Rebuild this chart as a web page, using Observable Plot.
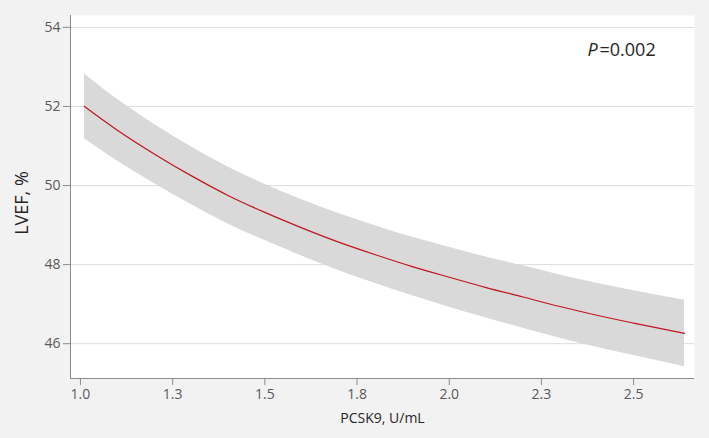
<!DOCTYPE html>
<html>
<head>
<meta charset="utf-8">
<script src="https://cdn.jsdelivr.net/npm/d3@7"></script>
<script src="https://cdn.jsdelivr.net/npm/@observablehq/plot@0.6"></script>
<style>
  html, body { margin: 0; padding: 0; background: #f2f2f2; }
  #chart { width: 709px; height: 438px; }
</style>
</head>
<body>
<div id="chart"></div>
<script>
// PCSK9 (U/mL) grid, fitted LVEF (%) and 95% confidence band
const pcsk9 = [1.011, 1.1, 1.2, 1.3, 1.4, 1.5, 1.6, 1.7, 1.8, 1.9, 2.0, 2.1, 2.2, 2.3, 2.4, 2.5, 2.638];
const lvefFit = [52.0, 51.4, 50.8, 50.25, 49.75, 49.32, 48.93, 48.57, 48.25, 47.95, 47.68, 47.42, 47.18, 46.94, 46.72, 46.52, 46.26];
const lvefHi = [52.82, 52.18, 51.55, 50.98, 50.47, 50.03, 49.64, 49.29, 48.98, 48.69, 48.44, 48.19, 47.97, 47.74, 47.53, 47.34, 47.10];
const lvefLo = [51.18, 50.62, 50.05, 49.52, 49.03, 48.61, 48.22, 47.85, 47.52, 47.21, 46.92, 46.65, 46.39, 46.14, 45.91, 45.70, 45.42];

const xTicks = [1.0, 1.25, 1.5, 1.75, 2.0, 2.25, 2.5];
const xTickLabels = ["1.0", "1.3", "1.5", "1.8", "2.0", "2.3", "2.5"];
const yTicks = [46, 48, 50, 52, 54];
const xDomain = [0.973, 2.665];
const yDomain = [45.12, 54.30];

const xTitle = "PCSK9, U/mL";
const yTitle = "LVEF, %";
const pItalic = "P";
const pValue = "=0.002";

const rows = pcsk9.map((x, i) => ({x, fit: lvefFit[i], lo: lvefLo[i], hi: lvefHi[i]}));

const axisGray = "#8c8c8c";
const textGray = "#595959";

const chart = Plot.plot({
  width: 709,
  height: 438,
  marginLeft: 70,
  marginRight: 15,
  marginTop: 15,
  marginBottom: 60,
  style: {background: "#f2f2f2", fontFamily: "'Open Sans', sans-serif", fontSize: "14px"},
  x: {domain: xDomain},
  y: {domain: yDomain},
  marks: [
    Plot.frame({fill: "white", stroke: null}),
    Plot.ruleY(yTicks, {stroke: "#dcdcdc", strokeWidth: 1}),
    Plot.areaY(rows, {x: "x", y1: "lo", y2: "hi", fill: "#d9d9d9", curve: "monotone-x"}),
    Plot.line(rows, {x: "x", y: "fit", stroke: "#c0161e", strokeWidth: 1.2, curve: "monotone-x"}),
    Plot.ruleX([xDomain[0]], {stroke: axisGray}),
    Plot.ruleY([yDomain[0]], {stroke: axisGray}),
    Plot.axisY(yTicks, {tickSize: 7, tickPadding: 3, stroke: axisGray, fill: textGray, label: null, fontSize: 14}),
    Plot.axisX(xTicks, {tickSize: 7, tickPadding: 4, stroke: axisGray, fill: textGray, label: null, fontSize: 14,
      tickFormat: (d) => xTickLabels[xTicks.indexOf(d)]}),
    Plot.text([xTitle], {frameAnchor: "bottom", dy: 44, fill: "#262626", fontSize: 14}),
    Plot.text([yTitle], {frameAnchor: "left", textAnchor: "middle", dx: -48, dy: 6, rotate: -90, fill: "#262626", fontSize: 18}),
    Plot.text([pItalic], {frameAnchor: "top-right", dx: -107, dy: 28, textAnchor: "start", fontStyle: "italic", fill: "#262626", fontSize: 18}),
    Plot.text([pValue], {frameAnchor: "top-right", dx: -95, dy: 28, textAnchor: "start", fill: "#262626", fontSize: 18})
  ]
});
document.getElementById("chart").appendChild(chart);
</script>
</body>
</html>
